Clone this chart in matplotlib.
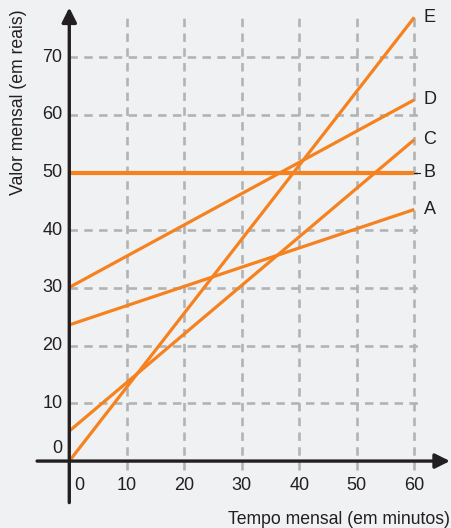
import matplotlib
matplotlib.use("Agg")
import matplotlib.pyplot as plt

# Data
series_names = ["A", "B", "C", "D", "E"]
x_start = [0, 0, 0, 0, 0]
x_end = [60, 60, 60, 60, 60]
y_start = [23.6, 50, 5.2, 30.1, 0]
y_end = [43.6, 50, 55.7, 62.6, 76.9]
x_ticks = [0, 10, 20, 30, 40, 50, 60]
y_ticks = [0, 10, 20, 30, 40, 50, 60, 70]

bg = "#f0f1f3"
orange = "#f5821f"
dark = "#231f20"
grid_c = "#b3b3b3"

plt.rcParams['font.family'] = ['Liberation Sans', 'DejaVu Sans']

fig = plt.figure(figsize=(4.52, 5.28), dpi=100, facecolor=bg)
ax = fig.add_axes([0, 0, 1, 1])
ax.set_facecolor(bg)
ax.set_xlim(-12.05, 66.56)
ax.set_ylim(-11.6, 79.9)
ax.axis("off")

# grid
for xv in x_ticks[1:]:
    ax.plot([xv, xv], [-1.6, 77.2], color=grid_c, lw=1.9, dashes=[3.2, 2.4], zorder=1)
for yv in y_ticks[1:]:
    ax.plot([0, 61.0], [yv, yv], color=grid_c, lw=1.9, dashes=[3.2, 2.4], zorder=1)

# series lines
for name, x0, x1, y0, y1 in zip(series_names, x_start, x_end, y_start, y_end):
    lw = 3.0 if name == "B" else 2.3
    ax.plot([x0, x1], [y0, y1], color=orange, lw=lw, solid_capstyle="butt", zorder=3)
    ax.text(62.7, y1, name, ha="center", va="center", fontsize=13, color=dark, zorder=5)

# small tick near B
ax.plot([60, 61.0], [50, 50], color=dark, lw=0.8, zorder=2)

# axes with arrows
ax.annotate("", xy=(66.2, 0), xytext=(-5.6, 0),
            arrowprops=dict(arrowstyle="-|>", lw=2.4, color=dark, mutation_scale=22,
                            shrinkA=0, shrinkB=0), zorder=4)
ax.annotate("", xy=(0, 78.6), xytext=(0, -7.2),
            arrowprops=dict(arrowstyle="-|>", lw=2.4, color=dark, mutation_scale=22,
                            shrinkA=0, shrinkB=0), zorder=4)

# tick labels
for yv in y_ticks:
    ypos = 2.1 if yv == 0 else yv
    ax.text(-1.2, ypos, str(yv), ha="right", va="center", fontsize=13, color=dark)
for xv in x_ticks:
    xpos = 1.7 if xv == 0 else xv
    ax.text(xpos, -4.3, str(xv), ha="center", va="center", fontsize=13, color=dark)

ax.text(66.2, -10.2, "Tempo mensal (em minutos)", ha="right", va="center",
        fontsize=12.7, color=dark)
ax.text(-8.9, 62.2, "Valor mensal (em reais)", ha="center", va="center",
        rotation=90, fontsize=12.7, color=dark)

fig.savefig("out.png", dpi=100, facecolor=bg)
